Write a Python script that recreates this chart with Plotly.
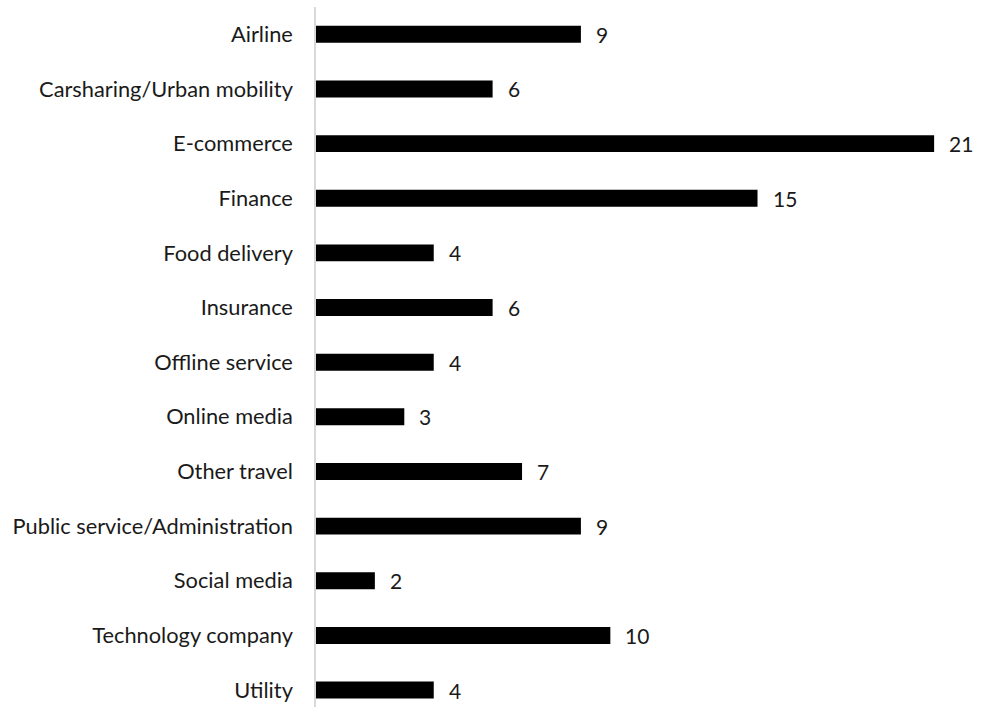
import plotly.graph_objects as go

categories = ["Airline", "Carsharing/Urban mobility", "E-commerce", "Finance", "Food delivery",
              "Insurance", "Offline service", "Online media", "Other travel",
              "Public service/Administration", "Social media", "Technology company", "Utility"]
values = [9, 6, 21, 15, 4, 6, 4, 3, 7, 9, 2, 10, 4]

FONT = "Lato"
fig = go.Figure()
fig.add_trace(go.Bar(
    x=values, y=categories, orientation="h",
    marker=dict(color="black", line=dict(width=0)),
    width=0.31, hoverinfo="x+y"
))
for c, v in zip(categories, values):
    fig.add_annotation(x=v, y=c, text=str(v), showarrow=False, xanchor="left",
                       xshift=13, font=dict(family=FONT, size=21, color="#1a1a1a"))

fig.update_layout(
    width=988, height=707,
    margin=dict(l=316, r=0, t=7, b=0),
    plot_bgcolor="white", paper_bgcolor="white",
    showlegend=False,
    xaxis=dict(range=[0, 22.83], visible=False, fixedrange=True),
    yaxis=dict(categoryorder="array", categoryarray=categories,
               range=[12.31, -0.5], showgrid=False, zeroline=False,
               showline=True, linecolor="#d9d9d9", linewidth=1.5,
               ticks="", ticklabelstandoff=17,
               tickfont=dict(family=FONT, size=21.8, color="#1a1a1a")),
)
fig.write_html("out.html")
